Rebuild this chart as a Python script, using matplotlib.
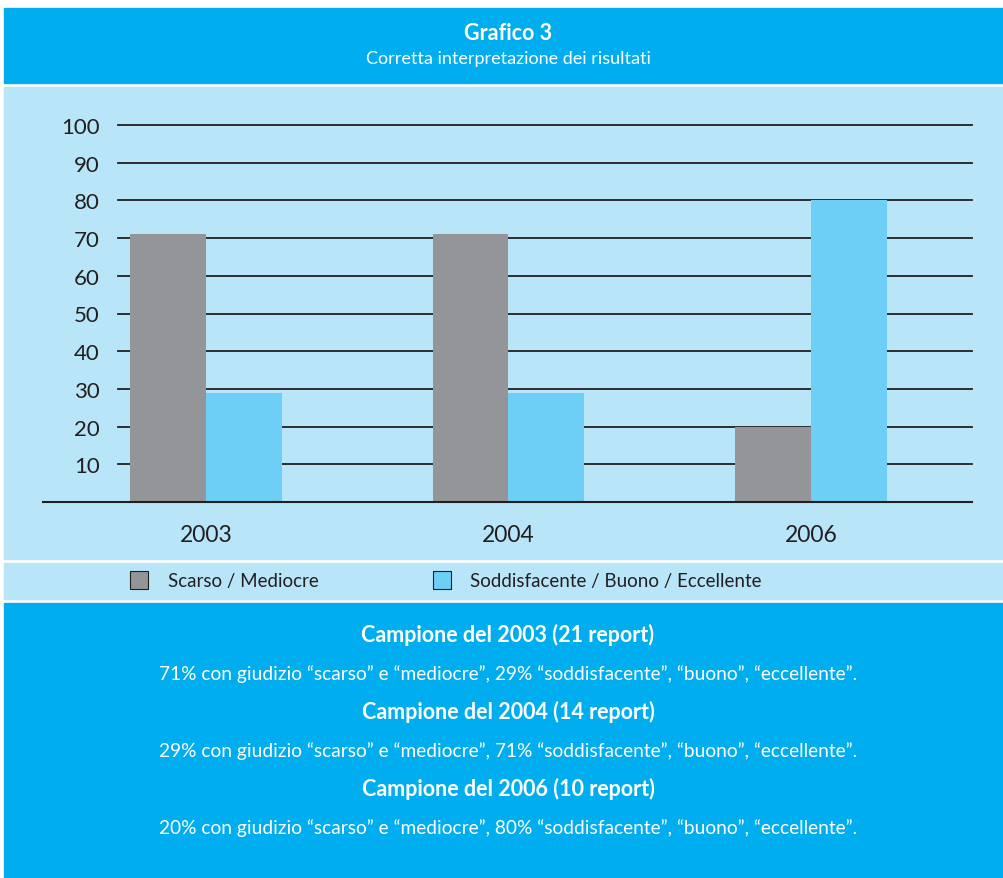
import matplotlib
matplotlib.use("Agg")
import matplotlib.pyplot as plt
from matplotlib.patches import Rectangle
import numpy as np

# dati del grafico
anni = ['2003', '2004', '2006']
scarso = [71, 71, 20]
buono = [29, 29, 80]
serie = ['Scarso / Mediocre', 'Soddisfacente / Buono / Eccellente']
titolo = 'Grafico 3'
sottotitolo = 'Corretta interpretazione dei risultati'
campioni = ['Campione del 2003 (21 report)',
            'Campione del 2004 (14 report)',
            'Campione del 2006 (10 report)']
giudizi = ['71% con giudizio \u201cscarso\u201d e \u201cmediocre\u201d, 29% \u201csoddisfacente\u201d, \u201cbuono\u201d, \u201ceccellente\u201d.',
           '29% con giudizio \u201cscarso\u201d e \u201cmediocre\u201d, 71% \u201csoddisfacente\u201d, \u201cbuono\u201d, \u201ceccellente\u201d.',
           '20% con giudizio \u201cscarso\u201d e \u201cmediocre\u201d, 80% \u201csoddisfacente\u201d, \u201cbuono\u201d, \u201ceccellente\u201d.']

W, H = 1004, 879
blu = '#00aeef'
azzurro = '#b9e5f9'
grigio = '#939598'
celeste = '#6dcff6'
scuro = '#231f20'

plt.rcParams['font.family'] = ['Lato', 'DejaVu Sans']

fig = plt.figure(figsize=(W / 100, H / 100), dpi=100)
fig.patch.set_facecolor('white')

def px(x, y):
    # pixel (dall'alto) -> coordinate figura
    return x / W, 1 - y / H

def pannello(y0, y1, colore):
    x0, yb = px(4, y1)
    fig.patches.append(Rectangle((x0, yb), 1 - x0, (y1 - y0) / H,
                                 transform=fig.transFigure, color=colore, zorder=-5))

pannello(9, 84, blu)
pannello(88, 560, azzurro)
pannello(564, 600, azzurro)
pannello(604, 879, blu)

fig.text(*px(508, 33), titolo, ha='center', va='center', color='white',
         fontsize=15.5, fontweight='bold')
fig.text(*px(508, 59), sottotitolo, ha='center', va='center', color='white',
         fontsize=13)

# area del grafico a barre
ax_l, ax_r, ax_t, ax_b = 118, 972, 126, 503
ax = fig.add_axes([ax_l / W, 1 - ax_b / H, (ax_r - ax_l) / W, (ax_b - ax_t) / H])
ax.set_facecolor('none')
for s in ax.spines.values():
    s.set_visible(False)

x = np.arange(len(anni))
w = 0.251
unit = 302.5
ax.set_xlim(-(206 - ax_l) / unit, 2 + (ax_r - 811) / unit)
ax.set_ylim(0, 100)

for v in range(10, 101, 10):
    ax.axhline(v, color=scuro, lw=1.3, zorder=1, clip_on=False)
ax.axhline(0, xmin=-(ax_l - 43) / (ax_r - ax_l), xmax=1, color=scuro, lw=1.5,
           zorder=3, clip_on=False)

ax.bar(x - w / 2, scarso, w, color=grigio, zorder=2)
ax.bar(x + w / 2, buono, w, color=celeste, zorder=2)

ax.set_yticks(range(10, 101, 10))
ax.set_xticks(x)
ax.set_xticklabels(anni)
ax.tick_params(axis='y', length=0, pad=13, labelsize=16, labelcolor=scuro)
ax.tick_params(axis='x', length=0, pad=16, labelsize=16.5, labelcolor=scuro)

# legenda
for (xq, xt), nome, col in zip([(130, 168), (433, 470)], serie, [grigio, celeste]):
    x0, y0 = px(xq, 590)
    fig.patches.append(Rectangle((x0, y0), 18 / W, 18 / H, transform=fig.transFigure,
                                 facecolor=col, edgecolor=scuro, lw=0.8, zorder=2))
    fig.text(*px(xt, 581), nome, ha='left', va='center', color=scuro, fontsize=13.5)

# note sui campioni
for i, (c, g) in enumerate(zip(campioni, giudizi)):
    fig.text(*px(508, 635 + i * 77), c, ha='center', va='center', color='white',
             fontsize=15.5, fontweight='bold')
    fig.text(*px(508, 674 + i * 77), g, ha='center', va='center', color='white',
             fontsize=13.8)

fig.savefig('out.png', dpi=100, facecolor='white')
